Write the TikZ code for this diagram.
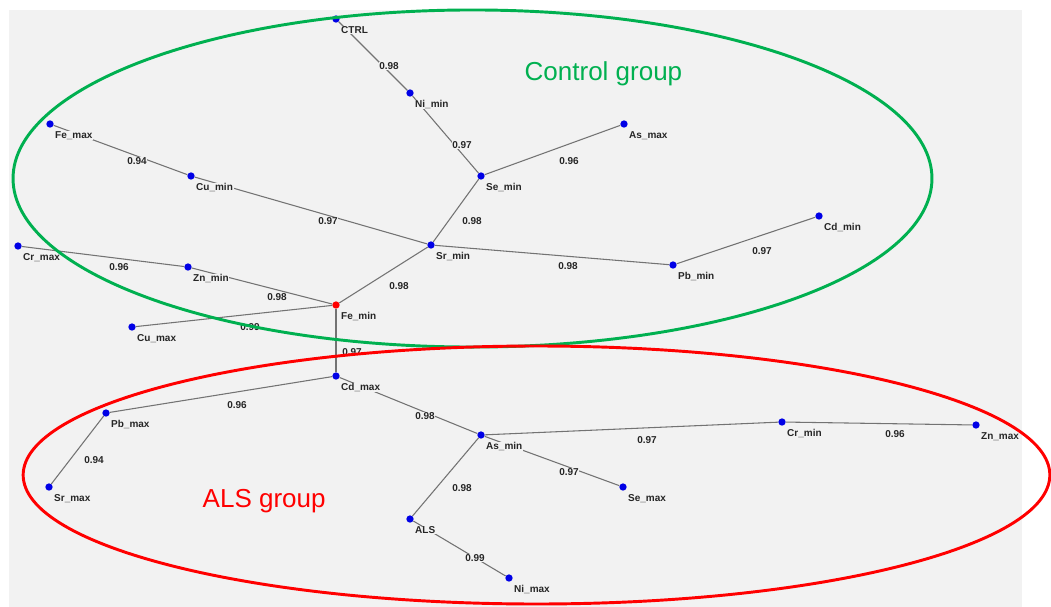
\documentclass[tikz,border=0pt]{standalone}
\usepackage{fontspec}
\setmainfont{Liberation Sans}
\usetikzlibrary{positioning}
\definecolor{dotblue}{RGB}{0,0,230}
\definecolor{grpgreen}{RGB}{0,176,80}
\definecolor{panelgray}{RGB}{242,242,242}
\tikzset{
  vtx/.style={circle, fill=dotblue, inner sep=0pt, minimum size=5.5pt},
  root/.style={vtx, fill=red},
  edge/.style={draw=black!55, line width=0.8pt},
  lbl/.style={font=\bfseries\fontsize{7.5}{9}\selectfont, text=black!85,
    fill=panelgray, inner xsep=0.5pt, inner ysep=0pt, anchor=west},
  wt/.style={font=\bfseries\fontsize{7.5}{9}\selectfont, text=black!85,
    fill=panelgray, inner sep=0.5pt},
  grptext/.style={font=\fontsize{19.5}{22}\selectfont, anchor=base west}
}

\begin{document}
\begin{tikzpicture}[x=0.75pt,y=-0.75pt]
    \useasboundingbox (0,0) rectangle (1051,607);
    \fill[panelgray] (9,10) rectangle (1022,607);

    \begin{scope}
        \clip (9,10) rectangle (1021,607);
        % Vertices of the tree
        \foreach \n/\x/\y in {ctrl/336/19, nimin/410/93, semin/481/176, asmax/624/124,
            femax/50/124, cumin/191/176, srmin/431/245, pbmin/673/265, cdmin/819/216,
            crmax/18/246, znmin/188/267, cumax/132/327, cdmax/336/376, pbmax/106/413,
            srmax/49/487, asmin/481/435, crmin/782/422, znmax/976/425, semax/623/487,
            als/410/519, nimax/509/578}
            \node[vtx] (\n) at (\x,\y) {};
        \node[root] (femin) at (336,305) {};

        % Edges and their weights
        \foreach \a/\b/\w/\lx/\ly in {ctrl/nimin/0.98/389/66, nimin/semin/0.97/462/145,
            semin/asmax/0.96/569/161, femax/cumin/0.94/137/161, cumin/srmin/0.97/328/221,
            semin/srmin/0.98/472/221, srmin/pbmin/0.98/568/266, pbmin/cdmin/0.97/762/251,
            crmax/znmin/0.96/119/267, znmin/femin/0.98/277/297, srmin/femin/0.98/399/286,
            cumax/femin/0.99/250/327, femin/cdmax/0.97/352/352, cdmax/pbmax/0.96/237/405,
            pbmax/srmax/0.94/94/460, cdmax/asmin/0.98/425/416, asmin/crmin/0.97/647/440,
            crmin/znmax/0.96/895/434, asmin/semax/0.97/569/472, asmin/als/0.98/462/488,
            als/nimax/0.99/475/558}
        {
            \draw[edge] (\a) -- (\b);
            \node[wt] (w-\a-\b) at (\lx,\ly) {\w};
        }

        % Vertex labels
        \foreach \n/\t in {ctrl/CTRL, nimin/Ni\_min, semin/Se\_min, asmax/As\_max,
            femax/Fe\_max, cumin/Cu\_min, srmin/Sr\_min, pbmin/Pb\_min, cdmin/Cd\_min,
            crmax/Cr\_max, znmin/Zn\_min, femin/Fe\_min, cumax/Cu\_max, cdmax/Cd\_max,
            pbmax/Pb\_max, srmax/Sr\_max, asmin/As\_min, crmin/Cr\_min, znmax/Zn\_max,
            semax/Se\_max, als/ALS, nimax/Ni\_max}
            \node[lbl] (\n-lbl) at ([xshift=3.2pt, yshift=-8.6pt]\n.center) {\t};
    \end{scope}

    % Groups
    \draw[grpgreen, line width=2.2pt] (472.5,178.5) ellipse [x radius=344.6pt, y radius=126.4pt];
    \draw[red, line width=2.2pt] (536.5,475) ellipse [x radius=385pt, y radius=96.75pt];
    \node[grptext, text=grpgreen] (ctrltxt) at (520,80) {Control group};
    \node[grptext, text=red] (alstxt) at (198,507) {ALS group};
\end{tikzpicture}
\end{document}
